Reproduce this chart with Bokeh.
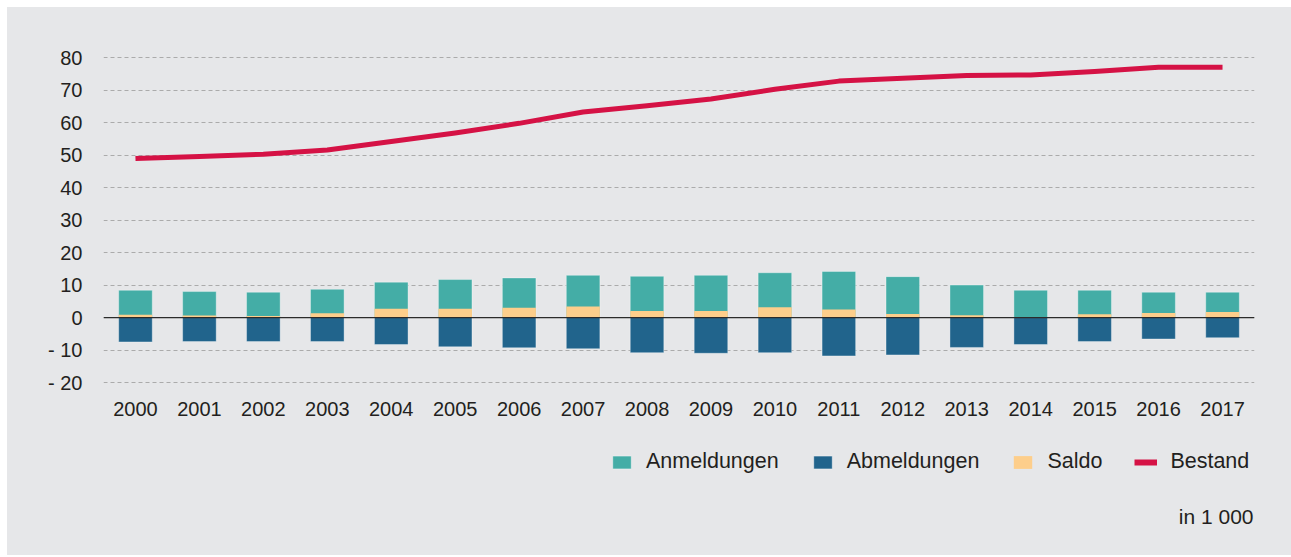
from bokeh.plotting import figure
from bokeh.layouts import column
from bokeh.models import (FactorRange, Range1d, FixedTicker, Span, Legend, LegendItem, Label)
from bokeh.embed import file_html
from bokeh.resources import INLINE

years = [str(y) for y in range(2000, 2018)]
anmeldungen = [8.4, 8.0, 7.8, 8.7, 10.9, 11.7, 12.2, 13.0, 12.7, 13.0, 13.8, 14.2, 12.6, 10.0, 8.4, 8.4, 7.8, 7.8]
abmeldungen = [7.5, 7.4, 7.4, 7.4, 8.3, 9.0, 9.3, 9.6, 10.8, 11.0, 10.8, 11.8, 11.5, 9.2, 8.3, 7.4, 6.6, 6.2]
saldo = [0.9, 0.6, 0.5, 1.3, 2.7, 2.7, 3.0, 3.4, 2.0, 2.0, 3.2, 2.5, 1.1, 0.7, 0.1, 1.0, 1.4, 1.7]
bestand = [49.0, 49.6, 50.3, 51.6, 54.2, 56.8, 59.8, 63.3, 65.2, 67.3, 70.3, 72.8, 73.7, 74.5, 74.7, 75.8, 77.1, 77.1]
y_ticks = [-20, -10, 0, 10, 20, 30, 40, 50, 60, 70, 80]
y_tick_labels = ["- 20", "- 10", "0", "10", "20", "30", "40", "50", "60", "70", "80"]
series_names = ["Anmeldungen", "Abmeldungen", "Saldo", "Bestand"]
unit_note = "in 1 000"

BG = "#e6e7e9"
TEAL = "#44ada6"
BLUE = "#21648c"
SALDO = "#fdce8b"
RED = "#d51245"
TXT = "#231f20"
FONT = "Liberation Sans"

neg_abm = [-v for v in abmeldungen]


def draw_series(fig):
    bar_kw = dict(width=0.525, line_color="white", line_alpha=0.35, line_width=1)
    r1 = fig.vbar(x=years, top=anmeldungen, bottom=0, fill_color=TEAL, **bar_kw)
    r2 = fig.vbar(x=years, top=0, bottom=neg_abm, fill_color=BLUE, **bar_kw)
    r3 = fig.vbar(x=years, top=saldo, bottom=0, width=0.525, fill_color=SALDO, line_color=None)
    return r1, r2, r3


# ---------------- main chart ----------------
p = figure(x_range=FactorRange(*years), y_range=Range1d(-24, 85),
           width=1284, height=423, output_backend="svg", toolbar_location=None,
           min_border_left=96, min_border_right=37, min_border_top=34, min_border_bottom=35)
p.background_fill_color = None
p.border_fill_color = None
p.outline_line_color = None
p.styles = {"background-color": BG}

draw_series(p)
p.add_layout(Span(location=0, dimension="width", line_color="#2b2b2b", line_width=1.3))
p.line(x=years, y=bestand, line_color=RED, line_width=5, line_cap="butt", line_join="round")

p.xgrid.grid_line_color = None
p.ygrid.ticker = FixedTicker(ticks=y_ticks)
p.ygrid.grid_line_color = "#ababab"
p.ygrid.grid_line_dash = "4 3"
p.ygrid.grid_line_width = 1

p.yaxis.ticker = FixedTicker(ticks=y_ticks)
p.yaxis.major_label_overrides = {t: l for t, l in zip(y_ticks, y_tick_labels)}
for ax in (p.xaxis[0], p.yaxis[0]):
    ax.axis_line_color = None
    ax.major_tick_line_color = None
    ax.minor_tick_line_color = None
    ax.major_tick_out = 0
    ax.major_tick_in = 0
    ax.major_label_text_font = FONT
    ax.major_label_text_font_size = "20px"
    ax.major_label_text_color = TXT
p.yaxis.major_label_standoff = 21
p.xaxis.major_label_standoff = 6

# ---------------- legend strip (same series, kept out of view) ----------------
lg = figure(x_range=FactorRange(*years), y_range=Range1d(1000, 1001),
            width=1284, height=125, output_backend="svg", toolbar_location=None,
            min_border_left=96, min_border_right=37, min_border_top=0, min_border_bottom=0)
lg.axis.visible = False
lg.grid.visible = False
lg.background_fill_color = None
lg.border_fill_color = None
lg.outline_line_color = None
lg.styles = {"background-color": BG}

d_anm, d_abm, d_sal = draw_series(lg)
d_bes = lg.line(x=years, y=bestand, line_color=RED, line_width=6, line_cap="butt")

legend = Legend(items=[LegendItem(label=series_names[0], renderers=[d_anm]),
                       LegendItem(label=series_names[1], renderers=[d_abm]),
                       LegendItem(label=series_names[2], renderers=[d_sal]),
                       LegendItem(label=series_names[3], renderers=[d_bes])],
                orientation="horizontal", location=(507, 81),
                glyph_width=23, glyph_height=16, label_standoff=13, spacing=32,
                padding=0, margin=0, border_line_color=None, background_fill_alpha=0,
                label_text_font=FONT, label_text_font_size="21.5px", label_text_color=TXT,
                label_height=16)
lg.add_layout(legend, "center")

lg.add_layout(Label(x=1150, y=39, x_units="screen", y_units="screen", text=unit_note,
                    text_align="right", text_baseline="middle", text_font=FONT,
                    text_font_size="21px", text_color=TXT))

layout = column(p, lg, spacing=0)
layout.margin = (7, 0, 2, 7)
layout.styles = {"background-color": BG}

open("out.html", "w").write(file_html(layout, INLINE))
